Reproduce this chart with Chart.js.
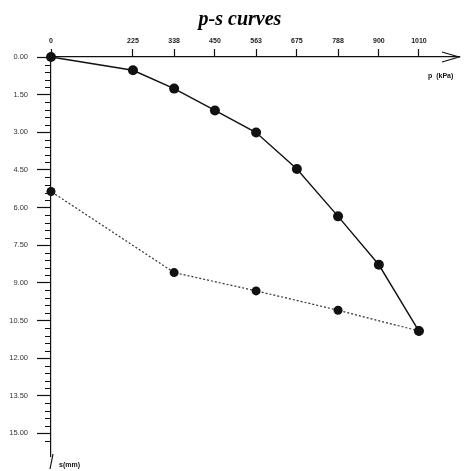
<!DOCTYPE html>
<html>
<head>
<meta charset="utf-8">
<script src="https://cdn.jsdelivr.net/npm/chart.js@4.4.1/dist/chart.umd.min.js"></script>
<style>
    html, body { margin: 0; padding: 0; background: #fff; }
    #wrap { width: 464px; height: 471px; }
</style>
</head>
<body>
<div id="wrap"><canvas id="psChart"></canvas></div>
<script>
// p-s curves (plate load test)

const chartTitle = 'p-s curves';
const pressureTicks = [0, 225, 338, 450, 563, 675, 788, 900, 1010];
const settlementTicks = [0, 1.5, 3, 4.5, 6, 7.5, 9, 10.5, 12, 13.5, 15];

// loading branch
const loadP = [0, 225, 338, 450, 563, 675, 788, 900, 1010];
const loadS = [0, 0.53, 1.26, 2.13, 3.01, 4.46, 6.35, 8.28, 10.92];

// unloading branch
const unloadP = [1010, 788, 563, 338, 0];
const unloadS = [10.92, 10.09, 9.32, 8.59, 5.36];

const ink = '#111';

const toPoints = (xs, ys) => xs.map((x, i) => ({ x: x, y: ys[i] }));

// title, minor ticks, axis arrows and the two axis names
const axisExtras = {
    id: 'axisExtras',
    afterDraw(chart) {
        const ctx = chart.ctx;
        const area = chart.chartArea;
        const yScale = chart.scales.y;

        ctx.save();

        // title sits a little right of the canvas centre in the scan
        ctx.fillStyle = '#000';
        ctx.font = 'italic bold 20px "Liberation Serif", "Times New Roman", serif';
        ctx.textAlign = 'center';
        ctx.textBaseline = 'middle';
        ctx.fillText(chartTitle, 240, 20);

        ctx.strokeStyle = ink;
        ctx.lineWidth = 1;

        // minor ticks every 0.3 mm
        for (let i = 1; i * 0.3 <= 15.5; i++) {
            if (i % 5 === 0) continue;
            const py = Math.round(yScale.getPixelForValue(i * 0.3)) + 0.5;
            ctx.beginPath();
            ctx.moveTo(area.left - 6, py);
            ctx.lineTo(area.left, py);
            ctx.stroke();
        }

        // arrow on p axis
        const ax = area.right;
        const ay = area.top;
        ctx.lineWidth = 1.2;
        ctx.beginPath();
        ctx.moveTo(ax - 17, ay - 5);
        ctx.lineTo(ax, ay);
        ctx.lineTo(ax - 17, ay + 5);
        ctx.stroke();

        // tail of s axis
        ctx.beginPath();
        ctx.moveTo(area.left + 2, area.bottom - 2);
        ctx.lineTo(area.left - 1, area.bottom + 13);
        ctx.stroke();

        ctx.fillStyle = ink;
        ctx.font = 'bold 7px "Liberation Sans", Arial, sans-serif';
        ctx.textAlign = 'left';
        ctx.fillText('p  (kPa)', 428, 76);
        ctx.fillText('s(mm)', 59, 465);
        ctx.restore();
    }
};

new Chart(document.getElementById('psChart').getContext('2d'), {
    type: 'scatter',
    data: {
        datasets: [{
            label: 'loading',
            data: toPoints(loadP, loadS),
            showLine: true,
            clip: false,
            borderColor: ink,
            borderWidth: 1.4,
            backgroundColor: ink,
            pointRadius: 5,
            pointBorderWidth: 0
        }, {
            label: 'unloading',
            data: toPoints(unloadP, unloadS),
            showLine: true,
            clip: false,
            borderColor: '#333',
            borderWidth: 1.2,
            borderDash: [2, 2],
            backgroundColor: ink,
            pointRadius: 4.5,
            pointBorderWidth: 0
        }]
    },
    options: {
        responsive: true,
        maintainAspectRatio: false,
        animation: false,
        layout: {
            padding: { left: 0, right: 2, top: 32, bottom: 15 }
        },
        plugins: {
            legend: { display: false },
            tooltip: { enabled: false },
            title: { display: false }
        },
        scales: {
            x: {
                type: 'linear',
                position: 'top',
                min: 0,
                max: 1120,
                afterBuildTicks: (scale) => {
                    scale.ticks = pressureTicks.map(v => ({ value: v }));
                },
                afterFit: (scale) => {
                    scale.height = 25;
                },
                border: { display: true, color: ink, width: 1.2 },
                grid: {
                    drawOnChartArea: false,
                    drawTicks: true,
                    tickLength: 8,
                    tickColor: ink,
                    tickWidth: 1.2
                },
                ticks: {
                    autoSkip: false,
                    maxRotation: 0,
                    padding: 4,
                    color: '#222',
                    font: { family: '"Liberation Sans", Arial, sans-serif', size: 7, weight: 'bold' },
                    callback: (value) => String(value)
                }
            },
            y: {
                type: 'linear',
                reverse: true,
                min: 0,
                max: 15.9,
                afterBuildTicks: (scale) => {
                    scale.ticks = settlementTicks.map(v => ({ value: v }));
                },
                afterFit: (scale) => {
                    scale.width = 51;
                },
                border: { display: true, color: ink, width: 1.2 },
                grid: {
                    drawOnChartArea: false,
                    drawTicks: true,
                    tickLength: 14,
                    tickColor: ink,
                    tickWidth: 1.2
                },
                ticks: {
                    autoSkip: false,
                    padding: 9,
                    color: '#333',
                    font: { family: '"Liberation Sans", Arial, sans-serif', size: 7.5 },
                    callback: (value) => value.toFixed(2)
                }
            }
        }
    },
    plugins: [axisExtras]
});
</script>
</body>
</html>
